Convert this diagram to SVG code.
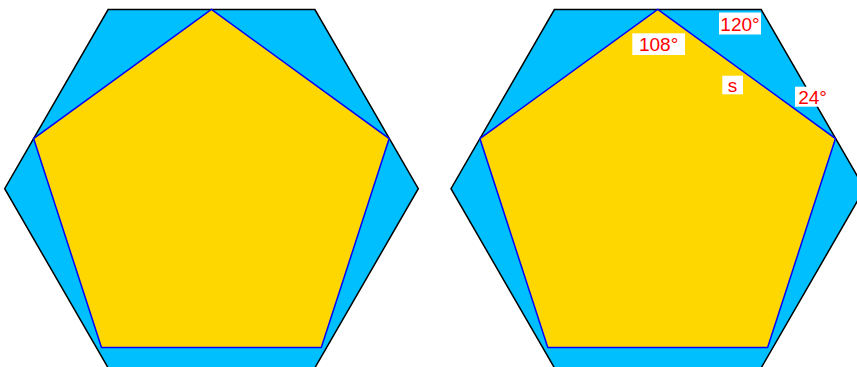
<svg xmlns="http://www.w3.org/2000/svg" width="857" height="367" viewBox="0 0 857 367">
<style>
.hex{fill:#00BFFF;stroke:#000;stroke-width:1.5;stroke-linejoin:miter}
.pent{fill:#FFD700;stroke:#0000FF;stroke-width:1.5;stroke-linejoin:miter}
.lbg{fill:#fff}
.lbl{fill:#FF0000;font-family:"Liberation Sans",Arial,sans-serif;font-size:19px;text-anchor:middle}
</style>
<defs>
<polygon id="hexshape" points="108.1,9.6 314.9,9.6 418.3,188.7 314.9,367.8 108.1,367.8 4.7,188.7"/>
<polygon id="pentshape" points="211.4,9.4 389.2,138.6 321.3,347.6 101.5,347.6 33.6,138.6"/>
</defs>
<g id="left-figure">
<use href="#hexshape" class="hex"/>
<use href="#pentshape" class="pent"/>
</g>
<g id="right-figure">
<g transform="translate(446.3,0)">
<use href="#hexshape" class="hex"/>
<use href="#pentshape" class="pent"/>
</g>
</g>
<g id="labels">
<g id="label-120"><rect class="lbg" x="719" y="12.5" width="42" height="22"/><text class="lbl" x="740" y="31">120°</text></g>
<g id="label-108"><rect class="lbg" x="632.3" y="33.3" width="52.7" height="21.7"/><text class="lbl" x="658.6" y="50.5">108°</text></g>
<g id="label-s"><rect class="lbg" x="722.3" y="75.7" width="20.7" height="18.6"/><text class="lbl" x="732.6" y="92">s</text></g>
<g id="label-24"><rect class="lbg" x="795" y="86.7" width="35" height="20"/><text class="lbl" x="812.5" y="103.5">24°</text></g>
</g>
</svg>
